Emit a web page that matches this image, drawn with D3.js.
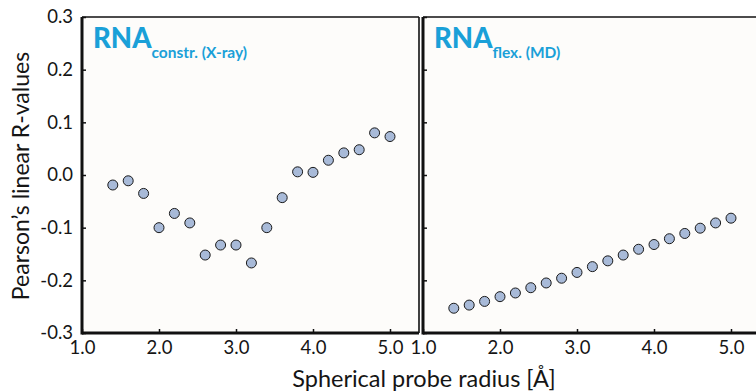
<!DOCTYPE html>
<html>
<head>
<meta charset="utf-8">
<script src="https://cdn.jsdelivr.net/npm/d3@7"></script>
<style>
  body { margin: 0; background: #fff; }
  svg { display: block; font-family: "Lato", "Open Sans", sans-serif; }
</style>
</head>
<body>
<svg id="chart" width="756" height="392"></svg>
<script>
// probe radii (x values, shared by both panels)
const radii = [1.4, 1.6, 1.8, 2.0, 2.2, 2.4, 2.6, 2.8, 3.0, 3.2, 3.4, 3.6, 3.8, 4.0, 4.2, 4.4, 4.6, 4.8, 5.0];

// R-values
const xrayValues = [-0.019, -0.011, -0.035, -0.100, -0.073, -0.091, -0.152, -0.133, -0.133, -0.167,
                    -0.100, -0.043, 0.006, 0.005, 0.028, 0.042, 0.048, 0.080, 0.073];
const mdValues = [-0.253, -0.247, -0.240, -0.231, -0.224, -0.214, -0.205, -0.196, -0.185, -0.174,
                  -0.163, -0.152, -0.141, -0.132, -0.121, -0.111, -0.101, -0.091, -0.082];

const xTicks = [1.0, 2.0, 3.0, 4.0, 5.0];
const yTicks = [-0.3, -0.2, -0.1, 0.0, 0.1, 0.2, 0.3];

const panels = [
  {main: 'RNA', sub: 'constr. (X-ray)', values: xrayValues, left: 82, right: 419},
  {main: 'RNA', sub: 'flex. (MD)', values: mdValues, left: 423, right: 760}
];

const plotTop = 17, plotBottom = 333;
const svg = d3.select('#chart');

const y = d3.scaleLinear().domain([-0.3, 0.3]).range([plotBottom, plotTop]);

panels.forEach((p, i) => {
  // 1.0 .. 5.0 spans about 308px in each panel
  const x = d3.scaleLinear().domain([1.0, 5.0]).range([p.left, p.left + 308]);
  const g = svg.append('g');

  // plot background + thin frame on top / right
  g.append('rect')
    .attr('x', p.left).attr('y', plotTop)
    .attr('width', p.right - p.left).attr('height', plotBottom - plotTop)
    .attr('fill', '#fdfcfa');
  g.append('line')
    .attr('x1', p.left).attr('x2', p.right).attr('y1', plotTop).attr('y2', plotTop)
    .attr('stroke', '#111').attr('stroke-width', 1.6);
  g.append('line')
    .attr('x1', p.right).attr('x2', p.right).attr('y1', plotTop).attr('y2', plotBottom)
    .attr('stroke', '#111').attr('stroke-width', 1.6);

  // bottom axis, ticks pointing in
  const xAxis = g.append('g')
    .attr('transform', `translate(0,${plotBottom})`)
    .call(d3.axisBottom(x).tickValues(xTicks).tickSize(-4).tickPadding(8).tickFormat(d3.format('.1f')));
  xAxis.select('.domain').remove();
  xAxis.append('line')
    .attr('x1', p.left).attr('x2', p.right)
    .attr('stroke', '#111').attr('stroke-width', 3);
  xAxis.selectAll('.tick line').attr('stroke', '#111').attr('stroke-width', 1.5);
  xAxis.selectAll('.tick text')
    .attr('font-size', 18.5).attr('fill', '#151515').attr('font-family', 'Lato, sans-serif');

  // left axis, labels only on first panel
  const yAxis = g.append('g')
    .attr('transform', `translate(${p.left},0)`)
    .call(d3.axisLeft(y).tickValues(yTicks).tickSize(-4).tickPadding(9));
  yAxis.select('.domain').remove();
  yAxis.append('line')
    .attr('y1', plotTop).attr('y2', plotBottom + 1.5)
    .attr('stroke', '#111').attr('stroke-width', 3);
  yAxis.selectAll('.tick line').attr('stroke', '#111').attr('stroke-width', 1.5);
  yAxis.selectAll('.tick text')
    .attr('font-size', 18.5).attr('fill', '#151515').attr('font-family', 'Lato, sans-serif')
    .text(d => i === 0 ? d3.format('.1f')(d).replace('\u2212', '-') : '');

  // points
  g.selectAll('circle.pt')
    .data(p.values)
    .enter()
    .append('circle')
    .attr('class', 'pt')
    .attr('cx', (d, k) => x(radii[k]))
    .attr('cy', d => y(d))
    .attr('r', 5)
    .attr('fill', '#a8bad8')
    .attr('stroke', '#1a1a1a')
    .attr('stroke-width', 1);

  // panel title with subscript
  const title = g.append('text')
    .attr('x', p.left + 11).attr('y', 48)
    .attr('fill', '#1aa0d8')
    .attr('font-weight', 900);
  title.append('tspan').attr('font-size', 27.5).text(p.main);
  title.append('tspan').attr('font-size', 15.5).attr('font-weight', 'bold').attr('dy', 10).text(p.sub);
});

// axis titles
svg.append('text')
  .attr('transform', 'translate(29,176) rotate(-90)')
  .attr('text-anchor', 'middle')
  .attr('font-size', 23)
  .attr('fill', '#151515')
  .text('Pearson\u2019s linear R-values');

svg.append('text')
  .attr('x', 424).attr('y', 387)
  .attr('text-anchor', 'middle')
  .attr('font-size', 23.5)
  .attr('fill', '#151515')
  .text('Spherical probe radius [\u00c5]');
</script>
</body>
</html>
